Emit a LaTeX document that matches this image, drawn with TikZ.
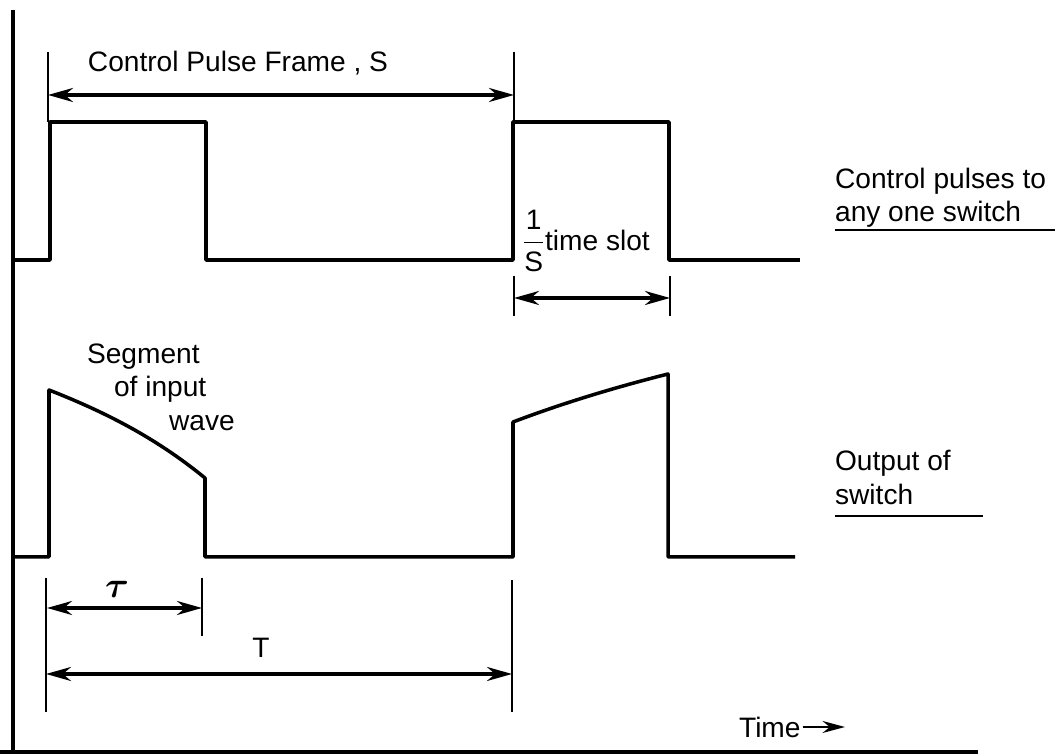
\documentclass[tikz,border=0pt]{standalone}
\usepackage{amsmath}
\usepackage{fontspec}
\setmainfont{Liberation Sans}
\usetikzlibrary{arrows.meta, calc, positioning}
\tikzset{
  wave/.style={line width=2pt, line join=round},
  axisline/.style={line width=1.8pt},
  tick/.style={line width=1.6pt},
  dim/.style={{Stealth[length=5mm, width=2.8mm]}-{Stealth[length=5mm, width=2.8mm]},
              line width=1.8pt},
  lbl/.style={font=\fontsize{16}{19}\selectfont, inner sep=1pt},
  sidelbl/.style={lbl, align=left, anchor=west},
  underl/.style={line width=1.3pt},
}

\begin{document}
\begin{tikzpicture}
\useasboundingbox (-0.26,-0.04) rectangle (20.84,15.04);

% Axes
\coordinate (orig) at (0,0);
\coordinate (ytop) at (0,14.84);
\coordinate (xstart) at (-0.26,0);
\coordinate (xend) at (19.3,0);
\draw[axisline] (ytop) -- (orig);
\draw[axisline] (xstart) -- (xend);

% Pulse edges
\coordinate (ea) at (0.74,0);
\coordinate (eb) at (3.86,0);
\coordinate (ec) at (10.0,0);
\coordinate (ed) at (13.12,0);

% Control pulses to one switch
\draw[wave] (0,9.84) -- (ea|-0,9.84) -- (ea|-0,12.6) -- (eb|-0,12.6) -- (eb|-0,9.84)
  -- (ec|-0,9.84) -- (ec|-0,12.6) -- (ed|-0,12.6) -- (ed|-0,9.84) -- (15.74,9.84);

% Output of switch: sampled segments of the input wave
\draw[wave] (0,3.9) -- (0.72,3.9) -- (0.72,7.24)
  .. controls (1.76,6.83) and (2.8,6.33) .. (3.84,5.48) -- (3.84,3.9) -- (10.0,3.9)
  -- (10.0,6.6) .. controls (11.03,6.99) and (12.07,7.3) .. (13.1,7.56)
  -- (13.1,3.9) -- (15.64,3.9);

% Frame S
\coordinate (fsL) at (0.7,13.14);
\coordinate (fsR) at (10.02,13.14);
\draw[tick] (0.7,14.0) -- (0.7,12.6);
\draw[tick] (10.02,14.0) -- (10.02,12.6);
\draw[dim] (fsL) -- (fsR);
\node[lbl] (framelbl) at (4.5,13.78) {Control Pulse Frame , S};

% Time slot
\coordinate (tsL) at (10.02,9.08);
\coordinate (tsR) at (13.14,9.08);
\draw[tick] (10.02,9.52) -- (10.02,8.72);
\draw[tick] (13.14,9.52) -- (13.14,8.72);
\draw[dim] (tsL) -- (tsR);
\node[lbl] (slotlbl) at (11.46,10.22) {$\dfrac{\text{1}}{\text{S}}$time slot};

% tau and T
\coordinate (tauL) at (0.68,2.88);
\coordinate (tauR) at (3.78,2.88);
\coordinate (TL) at (0.66,1.56);
\coordinate (TR) at (9.98,1.56);
\draw[tick] (0.66,3.48) -- (0.66,0.8);
\draw[tick] (3.78,3.48) -- (3.78,2.32);
\draw[tick] (9.98,3.44) -- (9.98,0.8);
\draw[dim] (tauL) -- (tauR);
\draw[dim] (TL) -- (TR);
\node[lbl] (taulbl) at (2.08,3.26) {\huge$\boldsymbol{\tau}$};
\node[lbl] (Tlbl) at (4.96,2.08) {T};

% Segment label
\node[lbl, align=left, anchor=west] (seglbl) at (1.44,7.3)
  {Segment\\\hspace{0.54cm}of input\\\hspace{1.64cm}wave};

% Side labels
\node[sidelbl] (ctrllbl) at (16.4,11.08) {Control pulses to\\any one switch};
\coordinate (ctrlu) at (16.44,10.44);
\coordinate (ctrlv) at (20.9,10.44);
\draw[underl] (ctrlu) -- (ctrlv);
\node[sidelbl] (outlbl) at (16.4,5.49) {Output of\\switch};
\coordinate (outu) at (16.44,4.72);
\coordinate (outv) at (19.4,4.72);
\draw[underl] (outu) -- (outv);

% Time
\node[lbl, anchor=west] (timelbl) at (14.48,0.5) {Time};
\coordinate (timeend) at (16.64,0.5);
\draw[line width=1.3pt, -{Stealth[length=4.5mm, width=2.4mm]}] (timelbl.east) -- (timeend);

\end{tikzpicture}
\end{document}
